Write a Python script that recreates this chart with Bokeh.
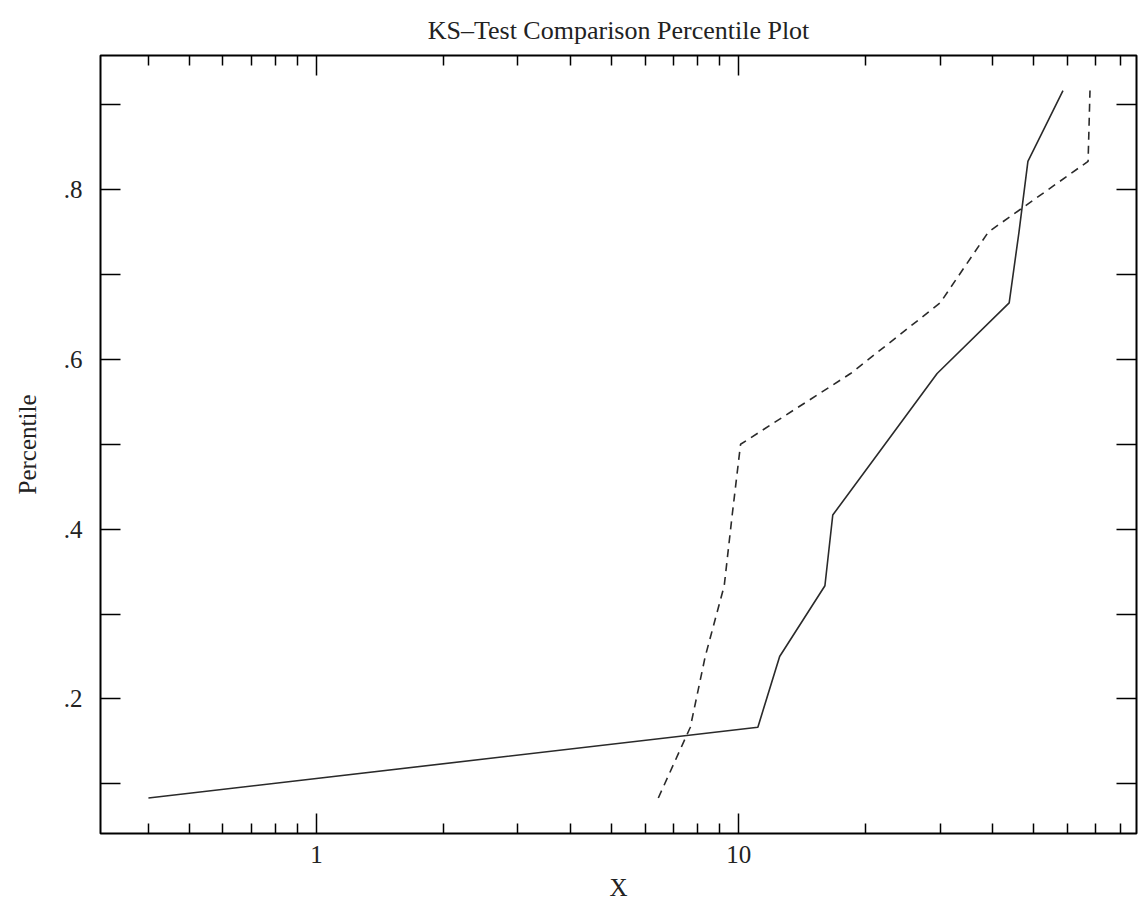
from bokeh.plotting import figure
from bokeh.models import (Range1d, FixedTicker, LogAxis, LinearAxis,
                          BasicTickFormatter, CustomJSTickFormatter)
from bokeh.embed import file_html
from bokeh.resources import INLINE

# ---- data ----
percentiles = [1/12, 2/12, 3/12, 4/12, 5/12, 6/12, 7/12, 8/12, 9/12, 10/12, 11/12]
sample1_x = [0.4, 11.1, 12.5, 16.0, 16.7, 22.2, 29.5, 43.7, 46.1, 48.4, 58.6]
sample2_x = [6.45, 7.68, 8.33, 9.24, 9.65, 10.1, 18.4, 30.0, 39.0, 67.2, 67.9]

x_major = [1, 10]
x_minor = [0.4, 0.5, 0.6, 0.7, 0.8, 0.9, 2, 3, 4, 5, 6, 7, 8, 9,
           20, 30, 40, 50, 60, 70, 80]
y_major = [0.2, 0.4, 0.6, 0.8]
y_minor = [0.1, 0.3, 0.5, 0.7, 0.9]

FONT = "Liberation Serif"

p = figure(width=1141, height=909, x_axis_type="log",
           x_range=Range1d(0.308, 87.5), y_range=Range1d(0.0415, 0.958),
           output_backend="svg", toolbar_location=None,
           title="KS\u2013Test Comparison Percentile Plot",
           min_border_left=100, min_border_right=5,
           min_border_top=55, min_border_bottom=76)

p.title.align = "center"
p.title.vertical_align = "top"
p.title.text_font = FONT
p.title.text_font_style = "normal"
p.title.text_font_size = "26px"
p.title.text_color = "#222222"
p.title.standoff = 18

p.xgrid.visible = False
p.ygrid.visible = False
p.outline_line_color = "black"
p.outline_line_width = 2
p.outline_line_alpha = 1.0
p.background_fill_color = "white"
p.border_fill_color = "white"

line_color = "#2a2a2a"
p.line(sample1_x, percentiles, line_color=line_color, line_width=1.6)
p.line(sample2_x, percentiles, line_color=line_color, line_width=1.6,
       line_dash="8 6")


def tick_style(ax):
    ax.axis_line_color = None
    ax.major_tick_out = 0
    ax.minor_tick_out = 0
    ax.major_tick_line_width = 1.5
    ax.minor_tick_line_width = 1.5
    ax.major_tick_line_color = "black"
    ax.minor_tick_line_color = "black"


# bottom axis (labelled)
xa = p.xaxis[0]
xa.ticker = FixedTicker(ticks=x_major, minor_ticks=x_minor)
tick_style(xa)
xa.major_tick_in = 20
xa.minor_tick_in = 10
xa.formatter = BasicTickFormatter()
xa.major_label_text_font = FONT
xa.major_label_text_font_size = "25px"
xa.major_label_text_color = "#222222"
xa.major_label_standoff = 12
xa.axis_label = "X"
xa.axis_label_text_font = FONT
xa.axis_label_text_font_size = "25px"
xa.axis_label_text_font_style = "normal"
xa.axis_label_text_color = "#222222"
xa.axis_label_standoff = 8

# left axis (labelled)
ya = p.yaxis[0]
ya.ticker = FixedTicker(ticks=y_major, minor_ticks=y_minor)
tick_style(ya)
ya.major_tick_in = 20
ya.minor_tick_in = 20
ya.formatter = CustomJSTickFormatter(
    code="return tick.toFixed(1).replace(/^0/, '');")
ya.major_label_text_font = FONT
ya.major_label_text_font_size = "25px"
ya.major_label_text_color = "#222222"
ya.major_label_standoff = 18
ya.major_label_orientation = "horizontal"
ya.axis_label = "Percentile"
ya.axis_label_text_font = FONT
ya.axis_label_text_font_size = "25px"
ya.axis_label_text_font_style = "normal"
ya.axis_label_text_color = "#222222"
ya.axis_label_standoff = 20

# mirrored tick marks (no labels): drawn as minor ticks only
top_major = LogAxis(ticker=FixedTicker(ticks=[], minor_ticks=x_major))
tick_style(top_major)
top_major.minor_tick_in = 20
top_major.major_label_standoff = 0
p.add_layout(top_major, "above")

top_minor = LogAxis(ticker=FixedTicker(ticks=[], minor_ticks=x_minor))
tick_style(top_minor)
top_minor.minor_tick_in = 10
top_minor.major_label_standoff = 0
p.add_layout(top_minor, "above")

right = LinearAxis(ticker=FixedTicker(ticks=[], minor_ticks=y_major + y_minor))
tick_style(right)
right.minor_tick_in = 20
right.major_label_standoff = 0
p.add_layout(right, "right")

open("out.html", "w").write(file_html(p, INLINE))
